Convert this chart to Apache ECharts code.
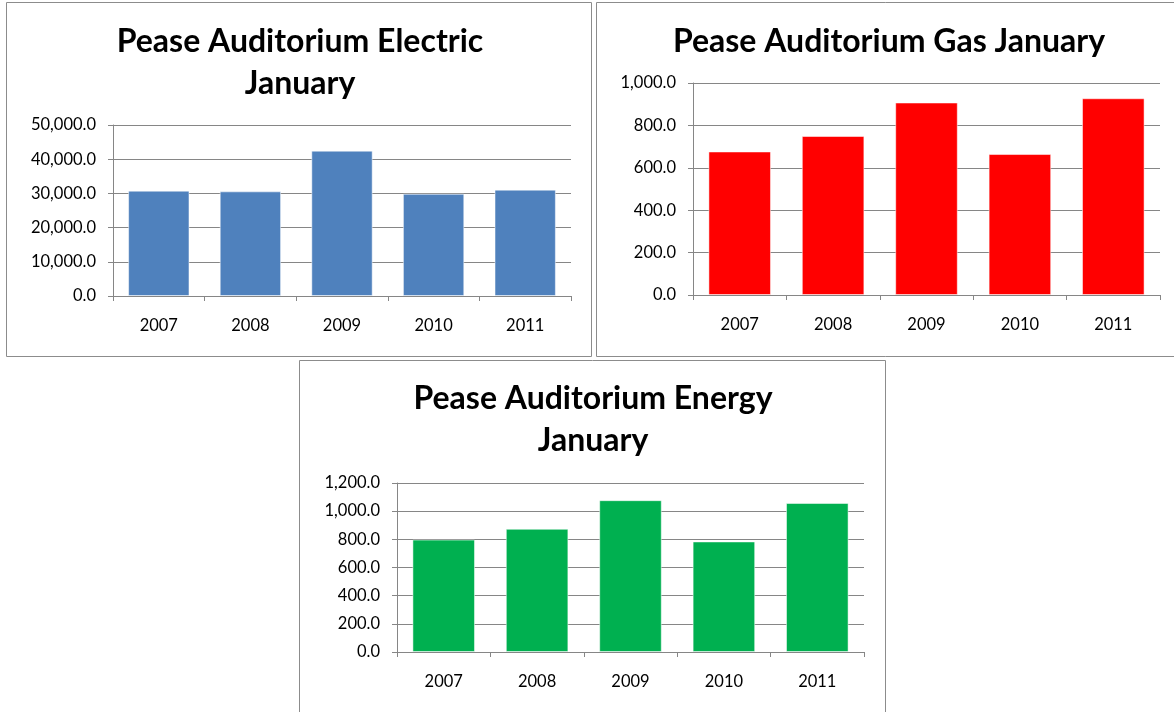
<!DOCTYPE html>
<html>
<head>
<meta charset="utf-8">
<script src="https://cdn.jsdelivr.net/npm/echarts@6/dist/echarts.min.js"></script>
<style>
  html, body { margin: 0; padding: 0; background: #fff; }
  #chart { width: 1174px; height: 712px; }
</style>
</head>
<body>
<div id="chart"></div>
<script>
// data
var years = ['2007', '2008', '2009', '2010', '2011'];
var electric = [30800, 30600, 42500, 29900, 31100];
var gas = [677, 750, 908, 665, 928];
var energy = [798, 875, 1078, 785, 1058];

var font = 'Lato';
var gridColor = '#868686';

function fmt(v) {
    return v.toLocaleString('en-US', { minimumFractionDigits: 1, maximumFractionDigits: 1 });
}

function xAx(i) {
    return {
        type: 'category', gridIndex: i, data: years,
        axisLine: { lineStyle: { color: gridColor } },
        axisTick: { show: true, length: 5, lineStyle: { color: gridColor } },
        axisLabel: { color: '#000', fontFamily: font, fontSize: 16.5, margin: 21 }
    };
}
function yAx(i, max, step) {
    return {
        type: 'value', gridIndex: i, min: 0, max: max, interval: step,
        axisLine: { show: true, lineStyle: { color: gridColor } },
        axisTick: { show: true, length: 5, lineStyle: { color: gridColor } },
        splitLine: { lineStyle: { color: gridColor } },
        axisLabel: { color: '#000', fontFamily: font, fontSize: 16.5, margin: 17, formatter: fmt }
    };
}
function bars(i, vals, color) {
    return {
        type: 'bar', xAxisIndex: i, yAxisIndex: i, data: vals,
        barCategoryGap: '33%',
        itemStyle: { color: color, borderColor: 'rgba(255,255,255,0.5)', borderWidth: 1 },
        silent: true
    };
}
function box(x, y, w, h) {
    return { type: 'rect', shape: { x: x, y: y, width: w, height: h },
        style: { fill: 'none', stroke: '#8c8c8c', lineWidth: 1 } };
}

var titleStyle = { fontFamily: font, fontSize: 32, fontWeight: 'bold', color: '#000', lineHeight: 42 };

var chart = echarts.init(document.getElementById('chart'));
chart.setOption({
    animation: false,
    graphic: [
        box(6.5, 2.5, 585, 354),
        box(596.5, 2.5, 580, 354),
        box(299.5, 360.5, 586, 360)
    ],
    title: [
        { text: 'Pease Auditorium Electric\nJanuary', left: 300, top: 21, padding: 0, textAlign: 'center', textStyle: titleStyle },
        { text: 'Pease Auditorium Gas January', left: 889, top: 21, padding: 0, textAlign: 'center', textStyle: titleStyle },
        { text: 'Pease Auditorium Energy\nJanuary', left: 593, top: 378, padding: 0, textAlign: 'center', textStyle: titleStyle }
    ],
    grid: [
        { left: 113, top: 125, width: 458, height: 171 },
        { left: 693, top: 83, width: 467, height: 212 },
        { left: 397, top: 483, width: 467, height: 169 }
    ],
    xAxis: [xAx(0), xAx(1), xAx(2)],
    yAxis: [yAx(0, 50000, 10000), yAx(1, 1000, 200), yAx(2, 1200, 200)],
    series: [
        bars(0, electric, '#4f81bd'),
        bars(1, gas, '#ff0000'),
        bars(2, energy, '#00b050')
    ]
});
</script>
</body>
</html>
